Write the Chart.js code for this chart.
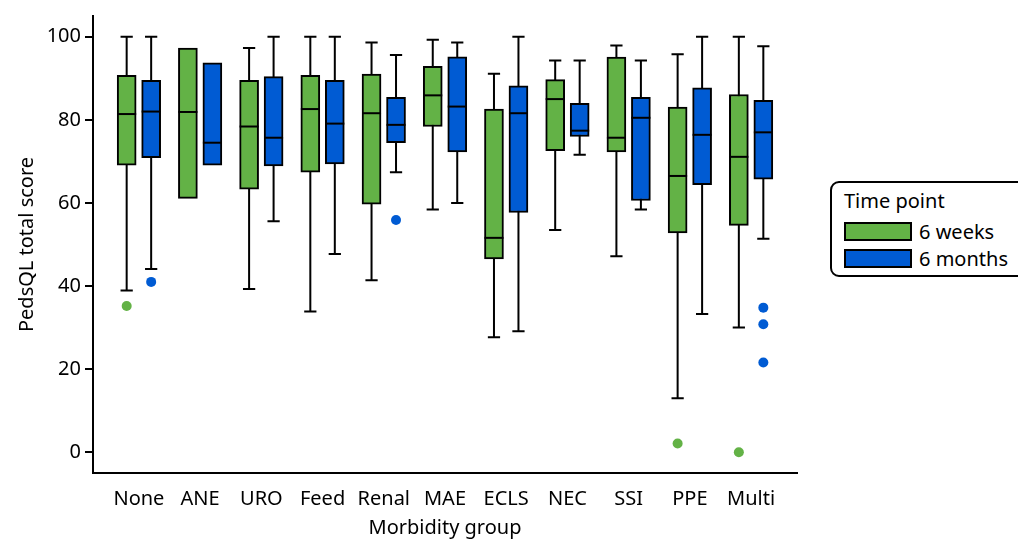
<!DOCTYPE html>
<html>
<head>
<meta charset="utf-8">
<script src="https://cdn.jsdelivr.net/npm/chart.js@4"></script>
<style>
  body { margin: 0; background: #fff; }
  #wrap { position: relative; width: 1018px; height: 540px; font-family: "Noto Sans", sans-serif; }
  #legend {
    position: absolute; left: 830px; top: 181px; width: 200px; height: 96px;
    border: 2px solid #000; border-radius: 9px; box-sizing: border-box; background: #fff;
  }
  #legend .title { position: absolute; left: 12px; top: 4px; font-size: 20px; color: #000; }
  #legend .item { position: absolute; left: 12px; font-size: 20px; line-height: 19px; color: #000; }
  #legend .sw { display: inline-block; width: 64px; height: 15px; border: 2px solid #000; vertical-align: top; margin-right: 7px; }
</style>
</head>
<body>
<div id="wrap">
  <canvas id="chart" width="1018" height="540"></canvas>
  <div id="legend">
    <div class="title">Time point</div>
    <div class="item" style="top:39px"><span class="sw" id="sw1"></span>6 weeks</div>
    <div class="item" style="top:66px"><span class="sw" id="sw2"></span>6 months</div>
  </div>
</div>
<script>
// data
const categories = ['None', 'ANE', 'URO', 'Feed', 'Renal', 'MAE', 'ECLS', 'NEC', 'SSI', 'PPE', 'Multi'];

const weeksLow    = [38.9, null, 39.3, 33.9, 41.4, 58.4, 27.7, 53.5, 47.2, 13.0, 30.0];
const weeksQ1     = [69.1, 61.1, 63.3, 67.4, 59.7, 78.4, 46.5, 72.6, 72.3, 52.8, 54.6];
const weeksMedian = [81.4, 81.9, 78.4, 82.6, 81.6, 85.9, 51.6, 85.0, 75.7, 66.5, 71.1];
const weeksQ3     = [90.7, 97.3, 89.5, 90.7, 91.0, 92.9, 82.6, 89.7, 95.1, 83.1, 86.1];
const weeksHigh   = [100, null, 97.3, 100, 98.6, 99.3, 91.1, 94.3, 97.9, 95.8, 100];
const weeksOutliers = [[0, 35.2], [9, 2.1], [10, 0]];

const monthsLow    = [44.1, null, 55.6, 47.7, 67.4, 60.0, 29.1, 71.6, 58.4, 33.3, 51.4];
const monthsQ1     = [70.9, 69.1, 68.9, 69.4, 74.5, 72.3, 57.7, 76.0, 60.6, 64.4, 65.7];
const monthsMedian = [82.0, 74.5, 75.7, 79.1, 78.8, 83.2, 81.6, 77.4, 80.5, 76.4, 77.0];
const monthsQ3     = [89.5, 93.7, 90.4, 89.5, 85.4, 95.2, 88.2, 84.0, 85.4, 87.7, 84.7];
const monthsHigh   = [100, null, 100, 100, 95.6, 98.6, 100, 94.3, 94.3, 100, 97.7];
const monthsOutliers = [[0, 41.0], [4, 55.9], [10, 34.8], [10, 30.8], [10, 21.6]];

const yTicks = [0, 20, 40, 60, 80, 100];

const green = '#63b246';
const blue = '#005bd3';
const shift = 0.2;

document.getElementById('sw1').style.background = green;
document.getElementById('sw2').style.background = blue;

function boxData(q1, q3, dx) {
  return q1.map((v, i) => ({ x: i + dx, y: [v, q3[i]] }));
}
function outlierData(list, dx) {
  return list.map(p => ({ x: p[0] + dx, y: p[1] }));
}

const series = [
  { dx: -shift, low: weeksLow, med: weeksMedian, high: weeksHigh },
  { dx: shift, low: monthsLow, med: monthsMedian, high: monthsHigh }
];

// whiskers behind the boxes, medians on top
const whiskerPlugin = {
  id: 'whiskers',
  beforeDatasetsDraw(chart) {
    const { ctx, scales: { x, y } } = chart;
    const capHalf = Math.abs(x.getPixelForValue(0.1) - x.getPixelForValue(0));
    ctx.save();
    ctx.strokeStyle = '#000';
    ctx.lineWidth = 2;
    series.forEach(s => {
      s.low.forEach((lo, i) => {
        if (lo === null) return;
        const px = x.getPixelForValue(i + s.dx);
        const pLo = y.getPixelForValue(lo);
        const pHi = y.getPixelForValue(s.high[i]);
        ctx.beginPath();
        ctx.moveTo(px, pLo); ctx.lineTo(px, pHi);
        ctx.moveTo(px - capHalf, pLo); ctx.lineTo(px + capHalf, pLo);
        ctx.moveTo(px - capHalf, pHi); ctx.lineTo(px + capHalf, pHi);
        ctx.stroke();
      });
    });
    ctx.restore();
  },
  afterDatasetsDraw(chart) {
    const { ctx, scales: { y } } = chart;
    ctx.save();
    ctx.strokeStyle = '#000';
    ctx.lineWidth = 2;
    series.forEach((s, si) => {
      const meta = chart.getDatasetMeta(si);
      s.med.forEach((m, i) => {
        const bar = meta.data[i];
        const half = bar.width / 2;
        const py = y.getPixelForValue(m);
        ctx.beginPath();
        ctx.moveTo(bar.x - half, py); ctx.lineTo(bar.x + half, py);
        ctx.stroke();
      });
    });
    ctx.restore();
  }
};

const font = { family: '"Noto Sans", sans-serif', size: 20 };

new Chart(document.getElementById('chart'), {
  type: 'bar',
  data: {
    datasets: [
      { label: '6 weeks', data: boxData(weeksQ1, weeksQ3, -shift), backgroundColor: green, borderColor: '#000', borderWidth: 2, borderSkipped: false, barThickness: 19, grouped: false },
      { label: '6 months', data: boxData(monthsQ1, monthsQ3, shift), backgroundColor: blue, borderColor: '#000', borderWidth: 2, borderSkipped: false, barThickness: 19, grouped: false },
      { type: 'scatter', data: outlierData(weeksOutliers, -shift), backgroundColor: green, borderWidth: 0, pointRadius: 5 },
      { type: 'scatter', data: outlierData(monthsOutliers, shift), backgroundColor: blue, borderWidth: 0, pointRadius: 5 }
    ]
  },
  options: {
    responsive: false,
    animation: false,
    layout: { padding: { top: 14, right: 221, left: 11, bottom: 0 } },
    plugins: { legend: { display: false }, tooltip: { enabled: false } },
    scales: {
      x: {
        type: 'linear',
        offset: false,
        min: -0.75,
        max: 10.75,
        afterBuildTicks: s => { s.ticks = categories.map((c, i) => ({ value: i })); },
        afterFit: s => { s.height = 67; },
        grid: { display: false },
        border: { display: true, color: '#000', width: 2 },
        ticks: { color: '#000', font, padding: 6, maxRotation: 0, autoSkip: false, callback: v => categories[v] },
        title: { display: true, text: 'Morbidity group', color: '#000', font: { family: font.family, size: 20 }, padding: { top: 4, bottom: 0 } }
      },
      y: {
        min: -5,
        max: 105,
        afterBuildTicks: s => { s.ticks = yTicks.map(v => ({ value: v })); },
        afterFit: s => { s.width = 82; },
        grid: { drawOnChartArea: false, drawTicks: true, tickLength: 8, color: '#000', lineWidth: 2 },
        border: { display: true, color: '#000', width: 2 },
        ticks: { color: '#000', font, padding: 4 },
        title: { display: true, text: 'PedsQL total score', color: '#000', font: { family: font.family, size: 20 }, padding: { bottom: 2 } }
      }
    }
  },
  plugins: [whiskerPlugin]
});
</script>
</body>
</html>
